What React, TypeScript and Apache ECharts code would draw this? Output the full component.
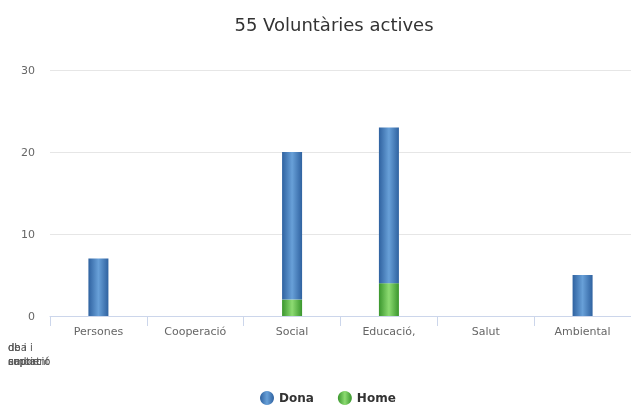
import React, { useEffect, useRef } from "react";
import * as echarts from "echarts";

const titleText = "55 Voluntàries actives";
const categories = ["Persones", "Cooperació", "Social", "Educació,", "Salut", "Ambiental"];
const donaValues = [7, 0, 18, 19, 0, 5];
const homeValues = [0, 0, 2, 4, 0, 0];
const yTicks = { min: 0, max: 30, interval: 10 };
const garbledLine1 = ["dba i", "de i"];
const garbledLine2 = ["captació", "ambient", "suport"];

const blue = new echarts.graphic.LinearGradient(0, 0, 1, 0, [
  { offset: 0, color: "#2f62a0" },
  { offset: 0.5, color: "#68a0d8" },
  { offset: 1, color: "#2f62a0" },
]);
const green = new echarts.graphic.LinearGradient(0, 0, 1, 0, [
  { offset: 0, color: "#3a962d" },
  { offset: 0.5, color: "#8ddb72" },
  { offset: 1, color: "#3a962d" },
]);

export default function App() {
  const ref = useRef<HTMLDivElement>(null);
  useEffect(() => {
    if (!ref.current) return;
    const chart = echarts.init(ref.current, null, { renderer: "svg" });
    const font = "DejaVu Sans";
    const graphics: any[] = [];
    garbledLine1.forEach((t) =>
      graphics.push({
        type: "text",
        left: 8,
        top: 342,
        style: { text: t, fontSize: 10, fill: "#555", fontFamily: font },
      })
    );
    garbledLine2.forEach((t) =>
      graphics.push({
        type: "text",
        left: 8,
        top: 356,
        style: { text: t, fontSize: 10, fill: "#555", fontFamily: font },
      })
    );
    chart.setOption({
      animation: false,
      textStyle: { fontFamily: font },
      title: {
        text: titleText,
        left: 329,
        textAlign: "center",
        top: 10,
        textStyle: { fontSize: 18, fontWeight: "normal", color: "#333", fontFamily: font },
      },
      legend: {
        data: ["Dona", "Home"],
        left: 255,
        top: 386,
        icon: "circle",
        itemWidth: 14,
        itemHeight: 14,
        itemGap: 24,
        textStyle: { fontSize: 12, fontWeight: "bold", color: "#333", fontFamily: font },
      },
      grid: { left: 50, right: -3, top: 70, bottom: 89, containLabel: false },
      xAxis: {
        type: "category",
        data: categories,
        axisLine: { lineStyle: { color: "#ccd6eb" } },
        axisTick: { show: true, length: 10, lineStyle: { color: "#ccd6eb" } },
        axisLabel: { color: "#666", fontSize: 11, margin: 10, fontFamily: font },
      },
      yAxis: {
        type: "value",
        min: yTicks.min,
        max: yTicks.max,
        interval: yTicks.interval,
        axisLine: { show: false },
        axisTick: { show: false },
        axisLabel: { color: "#666", fontSize: 11, margin: 15, fontFamily: font },
        splitLine: { lineStyle: { color: "#e6e6e6" } },
      },
      graphic: graphics,
      series: [
        {
          name: "Home",
          type: "bar",
          stack: "total",
          barWidth: 20,
          data: homeValues,
          itemStyle: { color: green },
        },
        {
          name: "Dona",
          type: "bar",
          stack: "total",
          barWidth: 20,
          data: donaValues,
          itemStyle: { color: blue },
        },
      ],
    });
    return () => chart.dispose();
  }, []);
  return <div ref={ref} style={{ width: 631, height: 405, position: "fixed", left: 0, top: 0 }} />;
}
